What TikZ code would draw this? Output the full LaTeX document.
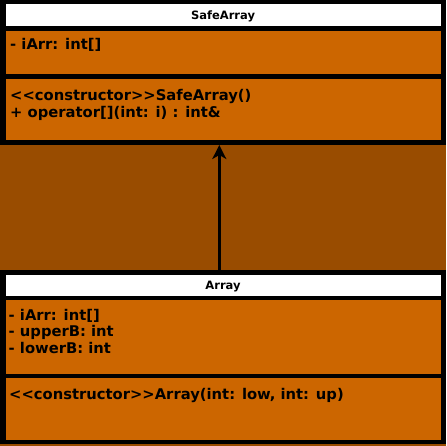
\documentclass[tikz,border=0pt]{standalone}
\usepackage{fontspec}
\newfontfamily\dejavu{DejaVu Sans}
\usetikzlibrary{arrows.meta}
\definecolor{umlorange}{HTML}{CC6600}
\definecolor{bgbrown}{HTML}{994C00}
\tikzset{
  x=1pt, y=-1pt,
  frame/.style={fill=black, inner sep=0, minimum width=446pt, anchor=north west, outer sep=0},
  titlebox/.style={fill=white, inner sep=0, minimum width=435pt, anchor=north west, outer sep=0},
  comp/.style={fill=umlorange, inner sep=0, minimum width=435pt, anchor=north west, outer sep=0},
  titletxt/.style={anchor=base, inner sep=0, font=\dejavu\bfseries\fontsize{11.5}{13}\selectfont},
  txt/.style={anchor=base west, inner sep=0, font=\dejavu\bfseries\fontsize{14.75}{17}\selectfont},
  inherit/.style={line width=3pt, -{Stealth[length=14pt, width=14pt, inset=4pt]}}
}
\begin{document}
\begin{tikzpicture}
\fill[bgbrown] (0,0) rectangle (446,446);
\useasboundingbox (0,0) rectangle (446,446);
% SafeArray
\node[frame, minimum height=145pt] (sa) at (0,0) {};
\node[titlebox, minimum height=22pt] (satitle) at (5.5,4) {};
\node[comp, minimum height=43pt] (saattr) at (5.5,31) {};
\node[comp, minimum height=61pt] (saops) at (5.5,79) {};
\node[titletxt] (sat) at (223,19.3) {SafeArray};
\node[txt] (sa1) at (10,49.5) {- iArr: int[]};
\node[txt] (sa2) at (10,100.7) {<<constructor>>SafeArray()};
\node[txt] (sa3) at (10,118) {+ operator[](int: i) : int\&};
% Array
\node[frame, minimum height=174pt] (ar) at (0,270) {};
\node[titlebox, minimum height=21pt] (artitle) at (5.5,275) {};
\node[comp, minimum height=74pt] (arattr) at (5.5,300) {};
\node[comp, minimum height=62pt] (arops) at (5.5,378) {};
\node[titletxt] (art) at (223,289.7) {Array};
\node[txt] (ar1) at (8.5,320) {- iArr: int[]};
\node[txt] (ar2) at (8.5,336.7) {- upperB: int};
\node[txt] (ar3) at (8.5,353.3) {- lowerB: int};
\node[txt] (ar4) at (9,399.7) {<<constructor>>Array(int: low, int: up)};
% inheritance
\coordinate (c1) at (219.3,270);
\coordinate (c2) at (219.3,145);
\draw[inherit] (c1) -- (c2);
\end{tikzpicture}
\end{document}
